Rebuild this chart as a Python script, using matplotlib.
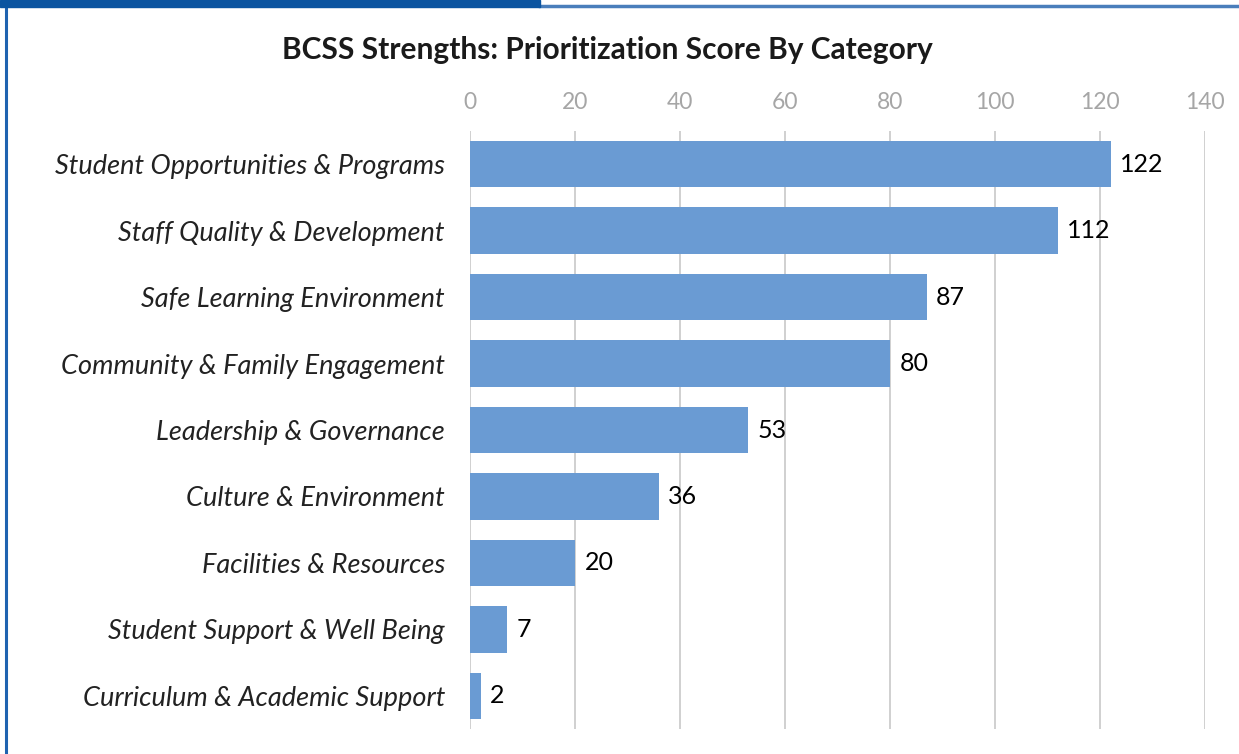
import matplotlib.pyplot as plt
from matplotlib.patches import Rectangle
from matplotlib.lines import Line2D

# data
categories = [
    "Student Opportunities & Programs",
    "Staff Quality & Development",
    "Safe Learning Environment",
    "Community & Family Engagement",
    "Leadership & Governance",
    "Culture & Environment",
    "Facilities & Resources",
    "Student Support & Well Being",
    "Curriculum & Academic Support",
]
scores = [122, 112, 87, 80, 53, 36, 20, 7, 2]
x_ticks = [0, 20, 40, 60, 80, 100, 120, 140]

plt.rcParams['font.family'] = ['Lato', 'DejaVu Sans']

fig = plt.figure(figsize=(12.39, 7.54), dpi=100)
ax = fig.add_axes([470 / 1239, 1 - 729 / 754, (1205 - 470) / 1239, (729 - 131) / 754])

y_pos = list(range(len(categories)))
ax.barh(y_pos, scores, height=0.7, color='#6A9BD3', zorder=3)
ax.set_ylim(len(categories) - 0.5, -0.5)
ax.set_xlim(0, 140)

for y, v in zip(y_pos, scores):
    ax.text(v + 1.8, y, str(v), va='center', ha='left', fontsize=18, color='black', zorder=4)

ax.set_yticks(y_pos)
ax.set_yticklabels(categories, fontsize=19.5, style='italic', color='#222222')
ax.tick_params(axis='y', length=0, pad=18)

ax.set_xticks(x_ticks)
ax.xaxis.tick_top()
ax.tick_params(axis='x', length=0, labelsize=16.5, labelcolor='#A6A6A6', pad=13)
ax.grid(axis='x', color='#C8C8C8', linewidth=1.2, zorder=0)

for s in ax.spines.values():
    s.set_visible(False)

fig.text(607 / 1239, 1 - 50 / 754, "BCSS Strengths: Prioritization Score By Category",
         ha='center', va='center', fontsize=21.5, fontweight='bold', color='#1a1a1a')

# frame decorations from the slide
fig.add_artist(Rectangle((0, 1 - 7 / 754), 540 / 1239, 7 / 754, transform=fig.transFigure,
                         color='#0B54A0', zorder=5))
fig.add_artist(Line2D([540 / 1239, 1], [1 - 5.5 / 754, 1 - 5.5 / 754], transform=fig.transFigure,
                      color='#4A7EBB', linewidth=2.5))
fig.add_artist(Line2D([6 / 1239, 6 / 1239], [0, 1], transform=fig.transFigure,
                      color='#1F63B0', linewidth=2.2))

fig.savefig('out.png', dpi=100)
